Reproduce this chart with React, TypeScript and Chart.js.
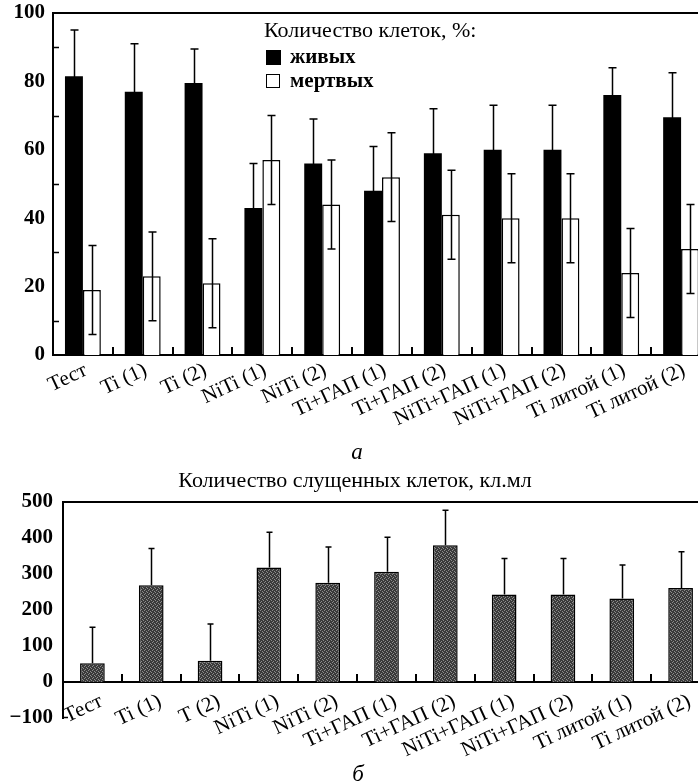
import React, { useEffect, useRef } from "react";
import { Chart, registerables } from "chart.js";

Chart.register(...registerables);

// ---------- DATA ----------
const categoriesTop = [
  "Тест", "Ti (1)", "Ti (2)", "NiTi (1)", "NiTi (2)", "Ti+ГАП (1)", "Ti+ГАП (2)",
  "NiTi+ГАП (1)", "NiTi+ГАП (2)", "Ti литой (1)", "Ti литой (2)",
];
const categoriesBottom = [
  "Тест", "Ti (1)", "T (2)", "NiTi (1)", "NiTi (2)", "Ti+ГАП (1)", "Ti+ГАП (2)",
  "NiTi+ГАП (1)", "NiTi+ГАП (2)", "Ti литой (1)", "Ti литой (2)",
];
const aliveValues = [81.5, 77, 79.5, 43, 56, 48, 59, 60, 60, 76, 69.5];
const aliveErrors = [13.5, 14, 10, 13, 13, 13, 13, 13, 13, 8, 13];
const deadValues = [19, 23, 21, 57, 44, 52, 41, 40, 40, 24, 31];
const deadErrors = [13, 13, 13, 13, 13, 13, 13, 13, 13, 13, 13];
const shedValues = [52, 269, 59, 318, 276, 306, 380, 243, 243, 232, 261];
const shedErrors = [100, 102, 102, 98, 99, 96, 97, 100, 100, 93, 101];

const topYTicks = [0, 20, 40, 60, 80, 100];
const topYMinorTicks = [10, 30, 50, 70, 90];
const bottomYTicks = [-100, 0, 100, 200, 300, 400, 500];

const legendTitle = "Количество клеток, %:";
const aliveLabel = "живых";
const deadLabel = "мертвых";
const bottomTitle = "Количество слущенных клеток, кл.мл";

const SERIF = "'Liberation Serif', 'DejaVu Serif', serif";

// ---------- PLUGINS ----------
const errorBarsPlugin = {
  id: "errorBars",
  afterDatasetsDraw(chart: any) {
    const { ctx } = chart;
    const y = chart.scales.y;
    chart.data.datasets.forEach((ds: any, di: number) => {
      const errs: number[] | undefined = ds.errors;
      if (!errs) return;
      const meta = chart.getDatasetMeta(di);
      const cap = ds.capHalf ?? 4;
      ctx.save();
      ctx.strokeStyle = "#000";
      ctx.lineWidth = 1.5;
      meta.data.forEach((bar: any, i: number) => {
        const v = ds.data[i];
        const e = errs[i];
        const x = Math.round(bar.x) + 0.5;
        const yTop = y.getPixelForValue(v + e);
        const yBot = y.getPixelForValue(ds.lowerErrors ? v - e : v);
        ctx.beginPath();
        ctx.moveTo(x, yTop);
        ctx.lineTo(x, yBot);
        ctx.moveTo(x - cap, yTop);
        ctx.lineTo(x + cap, yTop);
        if (ds.lowerErrors) {
          ctx.moveTo(x - cap, yBot);
          ctx.lineTo(x + cap, yBot);
        }
        ctx.stroke();
      });
      ctx.restore();
    });
  },
};

const framePlugin = {
  id: "frame",
  afterDraw(chart: any, _args: any, opts: any) {
    const { ctx, chartArea } = chart;
    const x = chart.scales.x;
    const y = chart.scales.y;
    ctx.save();
    ctx.strokeStyle = "#000";
    // top border
    ctx.lineWidth = 2;
    ctx.beginPath();
    ctx.moveTo(chartArea.left - 1, chartArea.top);
    ctx.lineTo(chartArea.right, chartArea.top);
    ctx.stroke();
    // category boundary ticks (inward)
    const baseY = y.getPixelForValue(opts.baseValue ?? 0);
    ctx.lineWidth = 2;
    ctx.beginPath();
    const n = chart.data.labels.length;
    for (let i = 0; i < n; i++) {
      const bx = Math.round(x.getPixelForValue(i + 0.5));
      ctx.moveTo(bx, baseY);
      ctx.lineTo(bx, baseY - 8);
    }
    ctx.stroke();
    // minor y ticks
    const minors: number[] = opts.minor || [];
    ctx.lineWidth = 1.5;
    ctx.beginPath();
    minors.forEach((v) => {
      const py = Math.round(y.getPixelForValue(v)) + 0.5;
      ctx.moveTo(chartArea.left, py);
      ctx.lineTo(chartArea.left + 6, py);
    });
    if (opts.bottomFoot) {
      ctx.moveTo(chartArea.left, chartArea.bottom - 0.5);
      ctx.lineTo(chartArea.left + 5, chartArea.bottom - 0.5);
    }
    ctx.stroke();
    ctx.restore();
  },
};

function makeStipple(ctx: CanvasRenderingContext2D) {
  const pc = document.createElement("canvas");
  pc.width = 4;
  pc.height = 4;
  const g = pc.getContext("2d")!;
  g.fillStyle = "#3a3a3a";
  g.fillRect(0, 0, 4, 4);
  g.fillStyle = "#8c8c8c";
  [[0, 0], [2, 1], [1, 3], [3, 2]].forEach(([a, b]) => g.fillRect(a, b, 1, 1));
  return ctx.createPattern(pc, "repeat");
}

// ---------- CHARTS ----------
function TopChart() {
  const ref = useRef<HTMLCanvasElement | null>(null);
  useEffect(() => {
    if (!ref.current) return;
    const chart = new Chart(ref.current, {
      type: "bar",
      data: {
        labels: categoriesTop,
        datasets: [
          {
            label: aliveLabel,
            data: aliveValues,
            backgroundColor: "#000",
            borderColor: "#000",
            borderWidth: 0,
            errors: aliveErrors,
            lowerErrors: true,
            capHalf: 4,
          } as any,
          {
            label: deadLabel,
            data: deadValues,
            backgroundColor: "#fff",
            borderColor: "#000",
            borderWidth: 1.5,
            errors: deadErrors,
            lowerErrors: true,
            capHalf: 4,
          } as any,
        ],
      },
      options: {
        animation: false,
        responsive: false,
        devicePixelRatio: 1,
        categoryPercentage: 0.6,
        barPercentage: 1.0,
        layout: { padding: { top: 13, right: 1, left: 0, bottom: 0 } },
        plugins: {
          legend: { display: false },
          tooltip: { enabled: false },
          frame: { minor: topYMinorTicks, baseValue: 0 },
        } as any,
        scales: {
          x: {
            type: "category",
            offset: true,
            grid: { display: false, drawTicks: false },
            border: { display: true, width: 2, color: "#000" },
            ticks: {
              color: "#000",
              font: { family: SERIF, size: 21 },
              minRotation: 25,
              maxRotation: 25,
              autoSkip: false,
              padding: 3,
              labelOffset: 3,
            },
            afterFit: (s: any) => {
              s.height = 85;
              s.paddingLeft = 0;
              s.paddingRight = 0;
            },
          },
          y: {
            min: 0,
            max: 100,
            grid: { display: false, drawTicks: false },
            border: { display: true, width: 2, color: "#000" },
            afterBuildTicks: (s: any) => {
              s.ticks = topYTicks.map((v) => ({ value: v }));
            },
            ticks: {
              color: "#000",
              font: { family: SERIF, size: 21, weight: "bold" },
              padding: 8,
            },
            afterFit: (s: any) => {
              s.width = 53;
              s.paddingTop = 0;
              s.paddingBottom = 0;
            },
          },
        },
      } as any,
      plugins: [errorBarsPlugin, framePlugin],
    });
    return () => chart.destroy();
  }, []);
  return (
    <canvas
      ref={ref}
      width={712}
      height={440}
      style={{ position: "absolute", left: 0, top: 0 }}
    />
  );
}

function BottomChart() {
  const ref = useRef<HTMLCanvasElement | null>(null);
  useEffect(() => {
    if (!ref.current) return;
    const ctx = ref.current.getContext("2d")!;
    const pattern = makeStipple(ctx);
    const chart = new Chart(ref.current, {
      type: "bar",
      data: {
        labels: categoriesBottom,
        datasets: [
          {
            label: bottomTitle,
            data: shedValues,
            backgroundColor: pattern as any,
            borderColor: "#000",
            borderWidth: 1.5,
            errors: shedErrors,
            lowerErrors: false,
            capHalf: 3,
          } as any,
        ],
      },
      options: {
        animation: false,
        responsive: false,
        devicePixelRatio: 1,
        categoryPercentage: 0.42,
        barPercentage: 1.0,
        layout: { padding: { top: 12, right: 1, left: 0, bottom: 64 } },
        plugins: {
          legend: { display: false },
          tooltip: { enabled: false },
          frame: { minor: [], baseValue: 0, bottomFoot: true },
        } as any,
        scales: {
          x: {
            type: "category",
            position: { y: 0 },
            offset: true,
            grid: { display: false, drawTicks: false },
            border: { display: true, width: 2, color: "#000" },
            ticks: {
              color: "#000",
              font: { family: SERIF, size: 21 },
              minRotation: 25,
              maxRotation: 25,
              autoSkip: false,
              padding: 7,
              labelOffset: 9,
            },
            afterFit: (s: any) => {
              s.paddingLeft = 0;
              s.paddingRight = 0;
            },
          },
          y: {
            min: -100,
            max: 500,
            grid: { display: false, drawTicks: false },
            border: { display: true, width: 2, color: "#000" },
            afterBuildTicks: (s: any) => {
              s.ticks = bottomYTicks.map((v) => ({ value: v }));
            },
            ticks: {
              color: "#000",
              font: { family: SERIF, size: 21, weight: "bold" },
              padding: 10,
              callback: (v: any) => String(v).replace("-", "−"),
            },
            afterFit: (s: any) => {
              s.width = 63;
              s.paddingTop = 0;
              s.paddingBottom = 0;
            },
          },
        },
      } as any,
      plugins: [errorBarsPlugin, framePlugin],
    });
    return () => chart.destroy();
  }, []);
  return (
    <canvas
      ref={ref}
      width={711}
      height={292}
      style={{ position: "absolute", left: 0, top: 490 }}
    />
  );
}

export default function App() {
  const text: React.CSSProperties = {
    position: "absolute",
    fontFamily: SERIF,
    color: "#000",
    whiteSpace: "nowrap",
    lineHeight: "24px",
  };
  return (
    <div
      style={{
        position: "absolute",
        left: 0,
        top: 0,
        width: 698,
        height: 782,
        overflow: "hidden",
        background: "#fff",
      }}
    >
      <TopChart />
      <BottomChart />
      {/* legend of the top chart */}
      <div style={{ ...text, left: 264, top: 18, fontSize: 22 }}>{legendTitle}</div>
      <div
        style={{
          position: "absolute",
          left: 266,
          top: 50,
          width: 13,
          height: 13,
          background: "#000",
          border: "1px solid #000",
        }}
      />
      <div style={{ ...text, left: 290, top: 44, fontSize: 21, fontWeight: "bold" }}>{aliveLabel}</div>
      <div
        style={{
          position: "absolute",
          left: 266,
          top: 74,
          width: 12,
          height: 12,
          background: "#fff",
          border: "1.5px solid #000",
        }}
      />
      <div style={{ ...text, left: 290, top: 68, fontSize: 21, fontWeight: "bold" }}>{deadLabel}</div>
      {/* captions */}
      <div style={{ ...text, left: 0, width: 714, top: 440, textAlign: "center", fontSize: 23, fontStyle: "italic" }}>а</div>
      <div style={{ ...text, left: 0, width: 710, top: 468, textAlign: "center", fontSize: 22 }}>{bottomTitle}</div>
      <div style={{ ...text, left: 0, width: 716, top: 762, textAlign: "center", fontSize: 23, fontStyle: "italic" }}>б</div>
    </div>
  );
}
